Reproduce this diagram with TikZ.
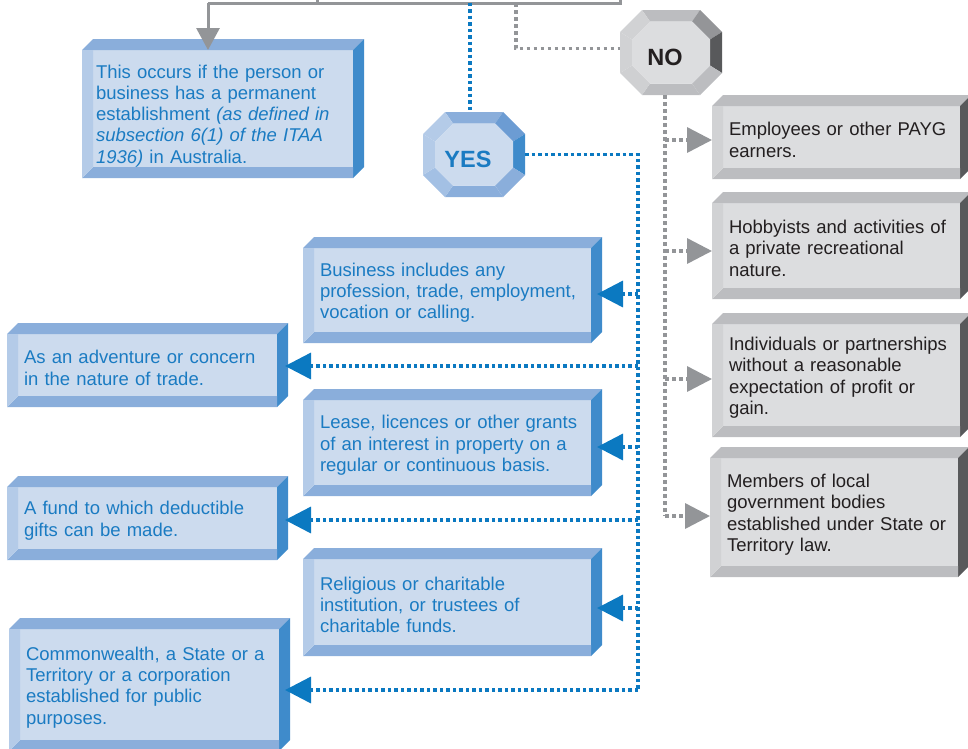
\documentclass[tikz,border=0pt]{standalone}
\usepackage{fontspec}
\newfontfamily\boxfont{Liberation Sans}
\usetikzlibrary{arrows.meta}

\definecolor{bluefront}{HTML}{CCDBEE}
\definecolor{bluetop}{HTML}{8AAEDB}
\definecolor{blueleft}{HTML}{B4CBE8}
\definecolor{blueright}{HTML}{3F8BCB}
\definecolor{bluediag}{HTML}{6C9CD3}
\definecolor{bluelow}{HTML}{A3C0E4}
\definecolor{bluetext}{HTML}{1A7BC2}
\definecolor{bluearrow}{HTML}{0B79C1}
\definecolor{greyfront}{HTML}{DCDDDF}
\definecolor{greytop}{HTML}{BCBDC0}
\definecolor{greyleft}{HTML}{D1D2D4}
\definecolor{greyright}{HTML}{58595B}
\definecolor{greydiag}{HTML}{949598}
\definecolor{greylow}{HTML}{CFD0D2}
\definecolor{greytext}{HTML}{231F20}
\definecolor{greyarrow}{HTML}{939598}

% bevel round a box front: #1 node, #2 colour set
\newcommand{\bevel}[2]{%
	\fill[#2top] ([xshift=-11pt]#1.north west) -- ([yshift=11pt]#1.north west) -- ([shift={(11pt,11pt)}]#1.north east) -- (#1.north east) -- cycle;
	\fill[#2right] (#1.north east) -- ([shift={(11pt,11pt)}]#1.north east) -- ([xshift=11pt]#1.south east) -- ([yshift=-11pt]#1.south east) -- cycle;
	\fill[#2top] ([shift={(-11pt,-11pt)}]#1.south west) -- (#1.south west) -- (#1.south east) -- ([yshift=-11pt]#1.south east) -- cycle;
	\fill[#2left] ([xshift=-11pt]#1.north west) -- (#1.north west) -- (#1.south west) -- ([shift={(-11pt,-11pt)}]#1.south west) -- cycle;
}

% faceted octagon round a node: #1 node, #2 colour set
\newcommand{\octagon}[2]{%
	\begin{scope}[shift={(#1.center)}]
		\fill[#2top] (-29,-42.5) -- (29,-42.5) -- (21,-31) -- (-21,-31) -- cycle;
		\fill[#2diag] (29,-42.5) -- (51,-20.5) -- (39,-13) -- (21,-31) -- cycle;
		\fill[#2right] (51,-20.5) -- (51,20.5) -- (39,13) -- (39,-13) -- cycle;
		\fill[#2top] (51,20.5) -- (29,42.5) -- (21,31) -- (39,13) -- cycle;
		\fill[#2top] (29,42.5) -- (-29,42.5) -- (-21,31) -- (21,31) -- cycle;
		\fill[#2low] (-29,42.5) -- (-51,20.5) -- (-39,13) -- (-21,31) -- cycle;
		\fill[#2left] (-51,20.5) -- (-51,-20.5) -- (-39,-13) -- (-39,13) -- cycle;
		\fill[#2left] (-51,-20.5) -- (-29,-42.5) -- (-21,-31) -- (-39,-13) -- cycle;
		\fill[#2front] (-21,-31) -- (21,-31) -- (39,-13) -- (39,13) -- (21,31) -- (-21,31) -- (-39,13) -- (-39,-13) -- cycle;
	\end{scope}}

\tikzset{
	face/.style={anchor=north west, inner ysep=0pt, inner xsep=6pt, outer sep=0pt, align=left,
		font=\boxfont\fontsize{18.5}{21.3}\selectfont, execute at begin node=\rule{0pt}{19pt}},
	bluebox/.style={face, fill=bluefront, text=bluetext},
	greybox/.style={face, fill=greyfront, text=greytext, minimum width=237pt, text width=225pt},
	rightcol/.style={bluebox, minimum width=277pt, text width=265pt},
	leftcol/.style={bluebox, minimum width=259pt, text width=247pt},
	octnode/.style={minimum width=102pt, minimum height=85pt, inner sep=0pt, outer sep=0pt},
	octlabel/.style={font=\boxfont\bfseries\fontsize{23.5}{26}\selectfont, inner sep=0pt},
	greyline/.style={draw=greyarrow, line width=3pt},
	greydots/.style={draw=greyarrow, line width=3.5pt, dash pattern=on 3.5pt off 3.5pt},
	bluedots/.style={draw=bluearrow, line width=3.5pt, dash pattern=on 3.5pt off 3pt},
	greytip/.style={-{Triangle[length=25pt,width=25pt]}},
	bluetip/.style={-{Triangle[length=26pt,width=26pt]}},
}

\begin{document}
\begin{tikzpicture}[x=1pt,y=-1pt]
	\useasboundingbox (0,0) rectangle (968,748);

	% Permanent establishment
	\node[bluebox, minimum width=260pt, minimum height=117pt, text width=254pt, inner xsep=3pt] (estab) at (93,50)
		{\rule{0pt}{28pt}This occurs if the person or\\business has a permanent\\establishment \textit{(as defined in}\\\textit{subsection 6(1) of the ITAA}\\\textit{1936)} in Australia.};
	\bevel{estab}{blue}

	% YES column
	\node[rightcol, minimum height=84pt] (business) at (314,248)
		{Business includes any\\profession, trade, employment,\\vocation or calling.};
	\node[rightcol, minimum height=85pt] (lease) at (314,400)
		{Lease, licences or other grants\\of an interest in property on a\\regular or continuous basis.};
	\node[rightcol, minimum height=86pt] (religious) at (314,559)
		{Religious or charitable\\institution, or trustees of\\charitable funds.};
	\node[leftcol, minimum height=62pt] (adventure) at (18,334)
		{As an adventure or concern\\in the nature of trade.};
	\node[leftcol, minimum height=62pt] (fund) at (18,487)
		{A fund to which deductible\\gifts can be made.};
	\node[leftcol, minimum height=111pt] (public) at (20,629)
		{Commonwealth, a State or a\\Territory or a corporation\\established for public\\purposes.};
	\foreach \b in {business,lease,religious,adventure,fund,public}
		{\bevel{\b}{blue}}

	% NO column
	\node[greybox, minimum height=62pt] (payg) at (723,106)
		{Employees or other PAYG\\earners.};
	\node[greybox, minimum height=85pt] (hobby) at (723,203)
		{Hobbyists and activities of\\a private recreational\\nature.};
	\node[greybox, minimum height=102pt] (noprofit) at (723,324)
		{Individuals or partnerships\\without a reasonable\\expectation of profit or\\gain.};
	\node[greybox, minimum height=108pt] (council) at (721,458)
		{Members of local\\government bodies\\established under State or\\Territory law.};
	\foreach \b in {payg,hobby,noprofit,council}
		{\bevel{\b}{grey}}

	% YES / NO
	\node[octnode] (yes) at (474,154.5) {};
	\octagon{yes}{blue}
	\node[octlabel, text=bluetext] (yeslabel) at ([shift={(-6pt,-5pt)}]yes.center) {YES};
	\node[octnode] (no) at (671,52.5) {};
	\octagon{no}{grey}
	\node[octlabel, text=greytext] (nolabel) at ([shift={(-6pt,-5pt)}]no.center) {NO};

	% Lines from above
	\coordinate (feed) at (208,3);
	\coordinate (feedmid) at (317,3);
	\coordinate (feedend) at (620,3);
	\coordinate (nofeed) at (516,3);
	\coordinate (yesfeed) at (470,-4);
	\draw[greyline] (feedmid) -- ++(0,-8);
	\draw[greyline] (feed) -- (feedend) -- ++(0,-8);
	\draw[greyline, -{Triangle[length=22pt,width=23pt]}] (feed) -- (feed |- estab.north);
	\draw[greydots] (nofeed) |- ([yshift=4pt]no.west);
	\draw[bluedots] (yesfeed) -- (yesfeed |- yes.north);

	% YES lines
	\coordinate (bluefoot) at (638,690);
	\draw[bluedots] (yes.east) -| (bluefoot);
	\coordinate (tbus) at (638,294);
	\coordinate (tadv) at (638,366);
	\coordinate (tlea) at (638,447);
	\coordinate (tfun) at (638,520);
	\coordinate (trel) at (638,608);
	\coordinate (rightedge) at ([xshift=6pt]business.east);
	\coordinate (leftedge) at ([xshift=8pt]adventure.east);
	\draw[bluedots, bluetip] (tbus) -- (tbus -| rightedge);
	\draw[bluedots, bluetip] (tadv) -- (tadv -| leftedge);
	\draw[bluedots, bluetip] (tlea) -- (tlea -| rightedge);
	\draw[bluedots, bluetip] (tfun) -- (tfun -| leftedge);
	\draw[bluedots, bluetip] (trel) -- (trel -| rightedge);
	\draw[bluedots, bluetip] (bluefoot) -- (bluefoot -| leftedge);

	% NO lines
	\coordinate (greytop) at ([xshift=-6pt]no.south);
	\coordinate (gpay) at (665,140);
	\coordinate (ghob) at (665,251);
	\coordinate (gpro) at (665,379);
	\coordinate (gfoot) at (665,516);
	\draw[greydots] (greytop) -- (gfoot);
	\draw[greydots, greytip, shorten >=11pt] (gpay) -- (gpay -| payg.west);
	\draw[greydots, greytip, shorten >=11pt] (ghob) -- (ghob -| hobby.west);
	\draw[greydots, greytip, shorten >=11pt] (gpro) -- (gpro -| noprofit.west);
	\draw[greydots, greytip, shorten >=11pt] (gfoot) -- (gfoot -| council.west);
\end{tikzpicture}
\end{document}
